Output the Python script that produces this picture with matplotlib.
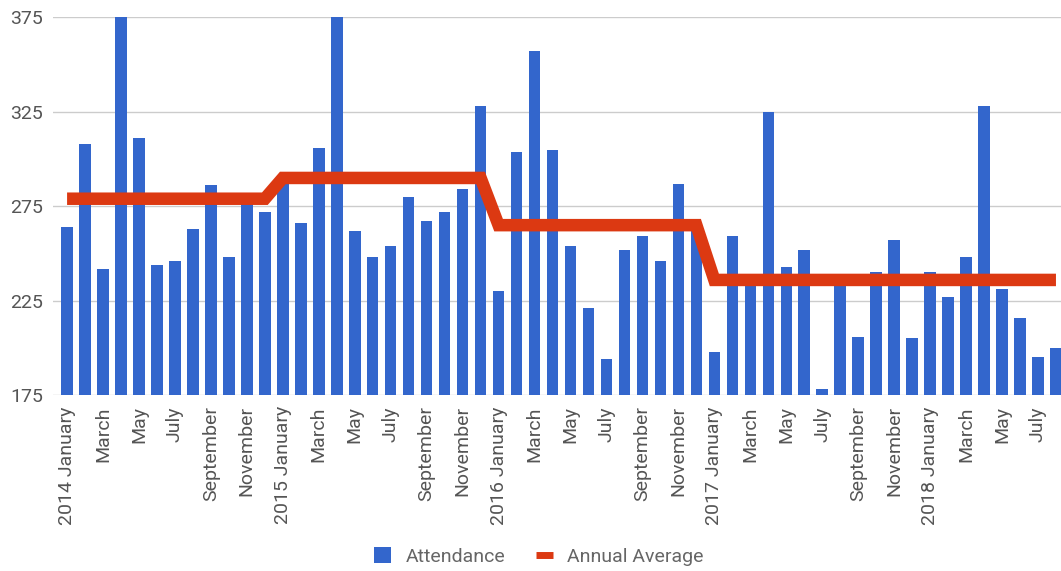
import matplotlib
matplotlib.use("Agg")
import matplotlib.pyplot as plt
from matplotlib.lines import Line2D
from matplotlib.patches import Patch
import numpy as np

# Monthly attendance, January 2014 through August 2018
years = [2014, 2015, 2016, 2017, 2018]
month_names = ["January", "February", "March", "April", "May", "June",
               "July", "August", "September", "October", "November", "December"]

attendance_2014 = [264, 308, 242, 387, 311, 244, 246, 263, 286, 248, 277, 272]
attendance_2015 = [287, 266, 306, 428, 262, 248, 254, 280, 267, 272, 284, 328]
attendance_2016 = [230, 304, 357, 305, 254, 221, 194, 252, 259, 246, 287, 265]
attendance_2017 = [198, 259, 238, 325, 243, 252, 178, 236, 206, 240, 257, 205]
attendance_2018 = [240, 227, 248, 328, 231, 216, 195, 200]

annual_average = [279, 290, 265, 236, 236]

series = [attendance_2014, attendance_2015, attendance_2016,
          attendance_2017, attendance_2018]

values = []
avg_line = []
labels = []
for yr, vals, avg in zip(years, series, annual_average):
    for m, v in enumerate(vals):
        values.append(v)
        avg_line.append(avg)
        labels.append(f"{yr} {month_names[m]}" if m == 0 else month_names[m])

x = np.arange(len(values))

plt.rcParams["font.family"] = ["Roboto", "DejaVu Sans"]

fig = plt.figure(figsize=(10.61, 5.71), dpi=100)
ax = fig.add_axes([0.05, 0.308, 0.95, 0.6615])

bar_color = "#3366cc"
line_color = "#dc3912"

ax.bar(x, values, width=0.64, color=bar_color, zorder=2)
ax.plot(x, avg_line, color=line_color, linewidth=9, zorder=3,
        solid_joinstyle="miter", solid_capstyle="butt")

ax.set_ylim(175, 375)
ax.set_xlim(-0.78, len(values) - 0.72)
ax.set_yticks([175, 225, 275, 325, 375])
ax.yaxis.grid(True, color="#cccccc", linewidth=1.0, zorder=0)
ax.set_axisbelow(True)
for s in ax.spines.values():
    s.set_visible(False)

tick_pos = x[::2]
ax.set_xticks(tick_pos)
ax.set_xticklabels([labels[i] for i in tick_pos], rotation=90, fontsize=14,
                   color="#555555", va="top", ha="center")
ax.tick_params(axis="both", length=0)
ax.tick_params(axis="y", labelsize=14, labelcolor="#555555", pad=7)
ax.tick_params(axis="x", pad=8)

handles = [Patch(facecolor=bar_color, edgecolor="none", label="Attendance"),
           Line2D([0], [0], color=line_color, linewidth=5,
                  solid_capstyle="butt", label="Annual Average")]
fig.legend(handles=handles, loc="center", bbox_to_anchor=(0.508, 0.025),
           ncol=2, frameon=False, fontsize=14, handlelength=0.85,
           handleheight=0.85, columnspacing=1.6, handletextpad=0.75,
           labelcolor="#666666")

fig.savefig("out.png", dpi=100)
